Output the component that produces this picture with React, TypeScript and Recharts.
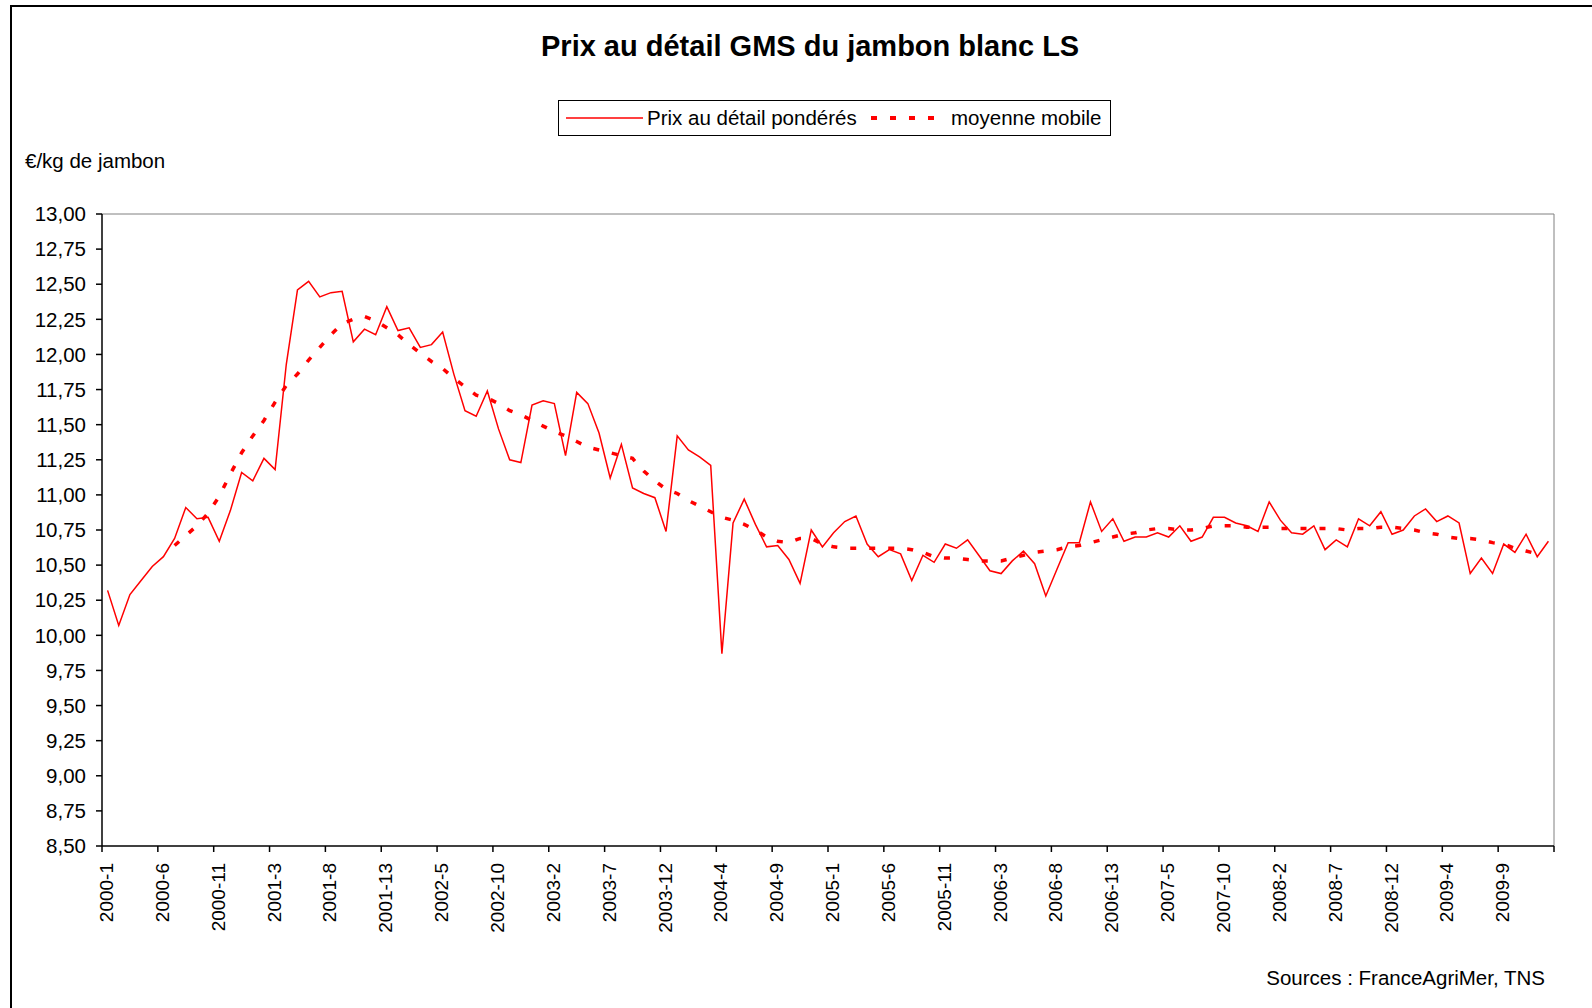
import React from 'react';
import { LineChart, Line, XAxis, YAxis, Legend, ReferenceLine } from 'recharts';

// 13 periods of 4 weeks per year
const years = [2000, 2001, 2002, 2003, 2004, 2005, 2006, 2007, 2008, 2009];
const periodsPerYear = 13;
const periods: string[] = years.flatMap((y) =>
  Array.from({ length: periodsPerYear }, (_, k) => `${y}-${k + 1}`)
);

// Prix au détail pondérés (€/kg)
const prices = [
  10.32, 10.07, 10.29, 10.39, 10.49, 10.56, 10.69, 10.91, 10.83, 10.84,
  10.67, 10.89, 11.16, 11.10, 11.26, 11.18, 11.93, 12.46, 12.52, 12.41,
  12.44, 12.45, 12.09, 12.18, 12.14, 12.34, 12.17, 12.19, 12.05, 12.07,
  12.16, 11.86, 11.60, 11.56, 11.74, 11.47, 11.25, 11.23, 11.64, 11.67,
  11.65, 11.28, 11.73, 11.65, 11.44, 11.12, 11.36, 11.05, 11.01, 10.98,
  10.74, 11.42, 11.32, 11.27, 11.21, 9.87, 10.80, 10.97, 10.79, 10.63,
  10.64, 10.54, 10.37, 10.75, 10.63, 10.73, 10.81, 10.85, 10.65, 10.56,
  10.61, 10.58, 10.39, 10.57, 10.52, 10.65, 10.62, 10.68, 10.57, 10.46,
  10.44, 10.53, 10.60, 10.51, 10.28, 10.47, 10.66, 10.66, 10.95, 10.74,
  10.83, 10.67, 10.70, 10.70, 10.73, 10.70, 10.78, 10.67, 10.70, 10.84,
  10.84, 10.80, 10.78, 10.74, 10.95, 10.82, 10.73, 10.72, 10.78, 10.61,
  10.68, 10.63, 10.83, 10.78, 10.88, 10.72, 10.75, 10.85, 10.90, 10.81,
  10.85, 10.80, 10.44, 10.55, 10.44, 10.65, 10.59, 10.72, 10.56, 10.67,
];

// moyenne mobile
const movingAvg: (number | null)[] = [
  null, null, null, null, null, null,
  10.64, 10.71, 10.78, 10.87, 10.99, 11.15, 11.30, 11.42, 11.53, 11.66,
  11.78, 11.86, 11.96, 12.05, 12.14, 12.22,
  12.25, 12.27, 12.24, 12.19, 12.14, 12.07, 12.01, 11.95, 11.90, 11.83,
  11.77, 11.71, 11.69, 11.65, 11.60, 11.57, 11.53, 11.49, 11.45, 11.42, 11.38,
  11.34, 11.32, 11.30, 11.28, 11.26, 11.17, 11.10, 11.04, 11.01, 10.96,
  10.92, 10.88, 10.84, 10.82, 10.79, 10.75, 10.70, 10.67, 10.66, 10.69, 10.69,
  10.65, 10.63, 10.62, 10.62, 10.62, 10.62, 10.62, 10.62, 10.61, 10.59,
  10.56, 10.55, 10.55, 10.54, 10.53, 10.53, 10.53, 10.55, 10.57, 10.59, 10.60, 10.61,
  10.63, 10.64, 10.66, 10.68, 10.70, 10.72, 10.73, 10.75, 10.76, 10.76,
  10.75, 10.75, 10.76, 10.78, 10.78, 10.78, 10.77, 10.77, 10.77, 10.76, 10.76,
  10.76, 10.76, 10.76, 10.76, 10.75, 10.76, 10.76, 10.77, 10.77, 10.76,
  10.75, 10.73, 10.72, 10.70, 10.69, 10.69, 10.68, 10.66, 10.65, 10.62, 10.60, 10.58,
  null,
];

const xTickLabels = [
  '2000-1', '2000-6', '2000-11', '2001-3', '2001-8', '2001-13', '2002-5', '2002-10',
  '2003-2', '2003-7', '2003-12', '2004-4', '2004-9', '2005-1', '2005-6', '2005-11',
  '2006-3', '2006-8', '2006-13', '2007-5', '2007-10', '2008-2', '2008-7', '2008-12',
  '2009-4', '2009-9',
];

const yTicks = [
  8.5, 8.75, 9, 9.25, 9.5, 9.75, 10, 10.25, 10.5, 10.75, 11, 11.25, 11.5, 11.75,
  12, 12.25, 12.5, 12.75, 13,
];

const W = 1592;
const H = 1008;
const margin = { top: 214, right: 38, bottom: 62, left: 12 };
const Y_AXIS_W = 90;
const X_AXIS_H = 100;
const plotW = W - margin.left - margin.right - Y_AXIS_W;
const catW = plotW / periods.length;
const FONT = '"Liberation Sans", Arial, sans-serif';

// point sits in the middle of its category, ticks on the boundaries
const data = periods.map((p, i) => ({
  x: i + 0.5,
  period: p,
  price: prices[i],
  ma: movingAvg[i],
}));
const xTicks = [...xTickLabels.map((l) => periods.indexOf(l)), periods.length];

const fmt = (v: number) => v.toFixed(2).replace('.', ',');

const XTick = (props: any) => {
  const { x, y, payload } = props;
  const label = periods[payload.value];
  if (!label) return <g />;
  const cx = x + catW / 2 - 1;
  const ty = y + 9;
  return (
    <text
      x={cx}
      y={ty}
      transform={`rotate(-90 ${cx} ${ty})`}
      textAnchor="end"
      dominantBaseline="central"
      fontSize={19}
      fontFamily={FONT}
      fill="#000"
    >
      {label}
    </text>
  );
};

const LegendBox = () => (
  <div
    style={{
      position: 'relative',
      width: 553,
      height: 36,
      border: '1.5px solid #000',
      boxSizing: 'border-box',
      background: '#fff',
      fontFamily: FONT,
      fontSize: 20.5,
      color: '#000',
    }}
  >
    <svg width={80} height={10} style={{ position: 'absolute', left: 7, top: 12 }}>
      <line x1={0} x2={77} y1={5} y2={5} stroke="#FF0000" strokeWidth={1.5} />
    </svg>
    <span style={{ position: 'absolute', left: 88, top: 5, lineHeight: '24px', whiteSpace: 'nowrap' }}>
      Prix au détail pondérés
    </span>
    <svg width={70} height={10} style={{ position: 'absolute', left: 312, top: 12 }}>
      <line x1={0} x2={66} y1={5} y2={5} stroke="#FF0000" strokeWidth={4} strokeDasharray="6 13" />
    </svg>
    <span style={{ position: 'absolute', left: 392, top: 5, lineHeight: '24px', whiteSpace: 'nowrap' }}>
      moyenne mobile
    </span>
  </div>
);

export default function App() {
  return (
    <div
      style={{
        position: 'absolute',
        left: 0,
        top: 0,
        width: W,
        height: H,
        overflow: 'hidden',
        background: '#fff',
        fontFamily: FONT,
        color: '#000',
      }}
    >
      <div
        style={{
          position: 'absolute',
          left: 10,
          top: 5,
          width: W,
          height: H,
          borderTop: '2px solid #000',
          borderLeft: '2px solid #000',
        }}
      />
      <div
        style={{
          position: 'absolute',
          left: 541,
          top: 31,
          fontSize: 29,
          lineHeight: '30px',
          fontWeight: 'bold',
          whiteSpace: 'nowrap',
        }}
      >
        Prix au détail GMS du jambon blanc LS
      </div>
      <div style={{ position: 'absolute', left: 25, top: 150, fontSize: 20.5, lineHeight: '22px', whiteSpace: 'nowrap' }}>
        €/kg de jambon
      </div>
      <div style={{ position: 'absolute', right: 47, top: 967, fontSize: 20.5, lineHeight: '22px', whiteSpace: 'nowrap' }}>
        Sources : FranceAgriMer, TNS
      </div>

      <div style={{ position: 'absolute', left: 0, top: 0 }}>
        <LineChart width={W} height={H} data={data} margin={margin}>
          <XAxis
            type="number"
            dataKey="x"
            domain={[0, periods.length]}
            ticks={xTicks}
            interval={0}
            height={X_AXIS_H}
            tick={<XTick />}
            tickSize={6}
            axisLine={{ stroke: '#000', strokeWidth: 1.5 }}
            tickLine={{ stroke: '#000', strokeWidth: 1.5 }}
          />
          <YAxis
            type="number"
            domain={[8.5, 13]}
            ticks={yTicks}
            interval={0}
            width={Y_AXIS_W}
            tickFormatter={fmt}
            tickSize={6}
            tickMargin={10}
            tick={{ fontSize: 20.5, fill: '#000', fontFamily: FONT }}
            axisLine={{ stroke: '#000', strokeWidth: 1.5 }}
            tickLine={{ stroke: '#000', strokeWidth: 1.5 }}
          />
          <ReferenceLine y={13} stroke="#808080" strokeWidth={1} />
          <ReferenceLine x={periods.length} stroke="#808080" strokeWidth={1} />
          <Legend
            content={<LegendBox />}
            layout="horizontal"
            verticalAlign="middle"
            align="center"
            wrapperStyle={{ left: 558, top: 100, width: 553, height: 36 }}
          />
          <Line
            type="linear"
            dataKey="price"
            name="Prix au détail pondérés"
            stroke="#FF0000"
            strokeWidth={1.5}
            dot={false}
            activeDot={false}
            isAnimationActive={false}
          />
          <Line
            type="linear"
            dataKey="ma"
            name="moyenne mobile"
            stroke="#FF0000"
            strokeWidth={3.5}
            strokeDasharray="6 13"
            dot={false}
            activeDot={false}
            isAnimationActive={false}
          />
        </LineChart>
      </div>
    </div>
  );
}
